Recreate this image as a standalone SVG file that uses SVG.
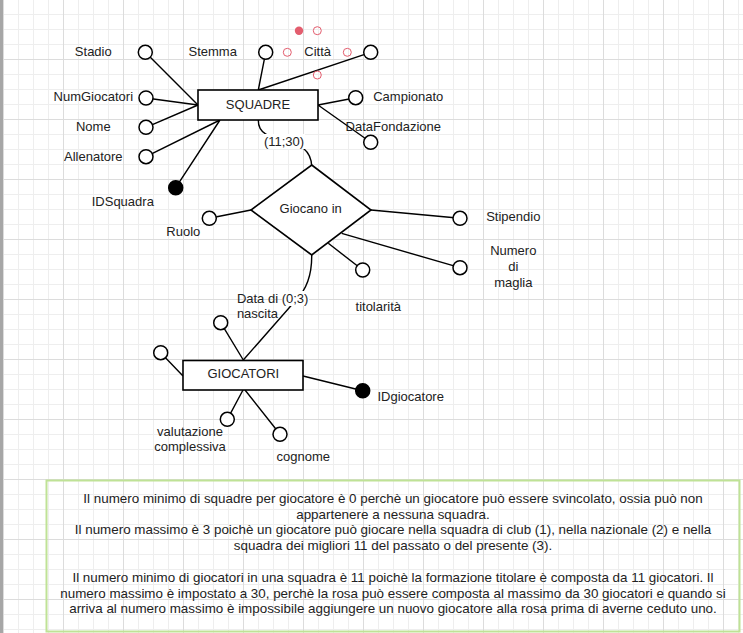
<svg xmlns="http://www.w3.org/2000/svg" width="743" height="633" viewBox="0 0 743 633">
<defs>
<pattern id="grid" x="3" y="-1" width="60" height="60" patternUnits="userSpaceOnUse">
<path d="M15.5,0V60M30.5,0V60M45.5,0V60M0,15.5H60M0,30.5H60M0,45.5H60" stroke="#eeeeee" stroke-width="1" fill="none"/>
<path d="M0.5,0V60M0,0.5H60" stroke="#dcdcdc" stroke-width="1" fill="none"/>
</pattern>
<style>
text{font-family:"Liberation Sans",Arial,sans-serif;font-size:13px;fill:#222;text-anchor:middle}
.note text{font-size:13.4px}
.ln{stroke:#000;stroke-width:1.4;fill:none}
.att{fill:#fff;stroke:#000;stroke-width:1.5}
.key{fill:#000;stroke:#000;stroke-width:1.5}
.ent{fill:#fff;stroke:#000;stroke-width:1.6}
.hint{fill:none;stroke:#e35d6e;stroke-width:1}
.lbl{fill:#fff}
</style>
</defs>
<rect width="743" height="633" fill="#fff"/>
<rect width="743" height="633" fill="url(#grid)"/>
<rect x="0" y="0" width="3" height="633" fill="#a6a6a6"/>

<g id="connectors">
<path class="ln" d="M145.3,52.3L198,105M146,98L198,105M146,127.3L198,105M146,156.7L220,120M175.7,187.7L220,120"/>
<path class="ln" d="M265.7,52.3L258.3,90M370.7,52.3L258.3,90M355.7,97.7L318,105M370.7,142.3L318,105"/>
<path class="ln" d="M258.3,120C258,134 270,137 284,140C300,144 311,150 311.7,166"/>
<path class="ln" d="M209.3,218.3L251,210M460,218.3L371,210M460,267.7L341.7,233.3M362.7,270L328.3,243.3"/>
<path class="ln" d="M311.7,255C312,276 306,290 296,300L243.3,360"/>
<path class="ln" d="M220.7,322.7L243.3,360M160.7,352.7L183,376M303,376L362.7,390.7M227.3,419.3L243,390M280,434.3L245,390"/>
<rect class="lbl" x="263" y="134" width="42" height="15"/>
<text x="284" y="146">(11;30)</text>
<rect class="lbl" x="282" y="291" width="27" height="15"/>
<text x="295" y="303">(0;3)</text>
</g>

<g id="squadre">
<rect class="ent" x="198" y="90" width="120" height="30"/>
<text x="258" y="108.5">SQUADRE</text>
</g>
<g id="stadio"><circle class="att" cx="145.3" cy="52.3" r="7"/><text x="93.3" y="56.3">Stadio</text></g>
<g id="numgiocatori"><circle class="att" cx="146" cy="98" r="7"/><text x="93.3" y="101.3">NumGiocatori</text></g>
<g id="nome"><circle class="att" cx="146" cy="127.3" r="7"/><text x="93.3" y="131.3">Nome</text></g>
<g id="allenatore"><circle class="att" cx="146" cy="156.7" r="7"/><text x="93.3" y="160.6">Allenatore</text></g>
<g id="idsquadra"><circle class="key" cx="175.7" cy="187.7" r="7"/><text x="122.8" y="205.6">IDSquadra</text></g>
<g id="stemma"><circle class="att" cx="265.7" cy="52.3" r="7"/><text x="212.7" y="56.3">Stemma</text></g>
<g id="citta"><circle class="att" cx="370.7" cy="52.3" r="7"/><text x="317.7" y="56.3">Città</text></g>
<g id="campionato"><circle class="att" cx="355.7" cy="97.7" r="7"/><text x="408.3" y="101.3">Campionato</text></g>
<g id="datafondazione"><circle class="att" cx="370.7" cy="142.3" r="7"/><text x="393.3" y="131.3">DataFondazione</text></g>

<g id="hints">
<circle cx="299" cy="30.7" r="4.2" fill="#e35d6e"/>
<circle class="hint" cx="317.3" cy="30.7" r="4"/>
<circle class="hint" cx="287.3" cy="52.3" r="4"/>
<circle class="hint" cx="347.3" cy="52.3" r="4"/>
<circle class="hint" cx="317.3" cy="75" r="4"/>
</g>

<g id="giocano-in">
<polygon class="ent" points="311.7,165 371,210 311.7,255 251,210"/>
<text x="310.7" y="212.8">Giocano in</text>
</g>
<g id="ruolo"><circle class="att" cx="209.3" cy="218.3" r="7"/><text x="183.3" y="236.2">Ruolo</text></g>
<g id="stipendio"><circle class="att" cx="460" cy="218.3" r="7"/><text x="513.3" y="221.2">Stipendio</text></g>
<g id="numero-maglia"><circle class="att" cx="460" cy="267.7" r="7"/><text x="513.3" y="255.2">Numero</text><text x="513.3" y="271">di</text><text x="513.3" y="286.8">maglia</text></g>
<g id="titolarita"><circle class="att" cx="362.7" cy="270" r="7"/><text x="378.3" y="310.5">titolarità</text></g>

<g id="giocatori">
<rect class="ent" x="183" y="360.5" width="120" height="29.5"/>
<text x="243.3" y="378">GIOCATORI</text>
</g>
<g id="data-nascita"><circle class="att" cx="220.7" cy="322.7" r="7"/><text x="257.5" y="302.8">Data di</text><text x="257.5" y="317.8">nascita</text></g>
<g id="attr-left"><circle class="att" cx="160.7" cy="352.7" r="7"/></g>
<g id="idgiocatore"><circle class="key" cx="362.7" cy="390.7" r="7"/><text x="410.7" y="401.2">IDgiocatore</text></g>
<g id="valutazione"><circle class="att" cx="227.3" cy="419.3" r="7"/><text x="190" y="436.2">valutazione</text><text x="190" y="451.2">complessiva</text></g>
<g id="cognome"><circle class="att" cx="280" cy="434.3" r="7"/><text x="303.3" y="461.2">cognome</text></g>

<g id="nota" class="note">
<rect x="46.5" y="480.5" width="693" height="151" fill="none" stroke="#bfe296" stroke-width="2"/>
<text x="393" y="502.8">Il numero minimo di squadre per giocatore è 0 perchè un giocatore può essere svincolato, ossia può non</text>
<text x="393" y="518.6">appartenere a nessuna squadra.</text>
<text x="393" y="534.4">Il numero massimo è 3 poichè un giocatore può giocare nella squadra di club (1), nella nazionale (2) e nella</text>
<text x="393" y="550.2">squadra dei migliori 11 del passato o del presente (3).</text>
<text x="393" y="581.8">Il numero minimo di giocatori in una squadra è 11 poichè la formazione titolare è composta da 11 giocatori. Il</text>
<text x="393" y="597.6">numero massimo è impostato a 30, perchè la rosa può essere composta al massimo da 30 giocatori e quando si</text>
<text x="393" y="613.4">arriva al numero massimo è impossibile aggiungere un nuovo giocatore alla rosa prima di averne ceduto uno.</text>
</g>
</svg>
